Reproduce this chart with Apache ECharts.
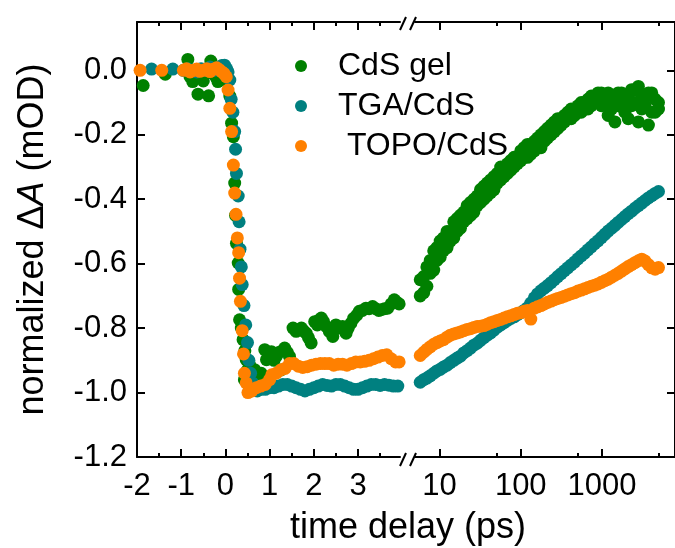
<!DOCTYPE html>
<html><head><meta charset="utf-8">
<script src="https://cdn.jsdelivr.net/npm/echarts@6/dist/echarts.min.js"></script>
<style>html,body{margin:0;padding:0;background:#fff}#c{width:675px;height:548px}</style>
</head><body><div id="c"></div>
<script>
const seriesNames = ['CdS gel', 'TGA/CdS', ' TOPO/CdS'];
const seriesColors = ['#008000', '#008080', '#ff8000'];
const linTickLabels = [-2, -1, 0, 1, 2, 3];
const linMinorTicks = [-1.5, -0.5, 0.5, 1.5, 2.5, 3.5];
const logTickLabels = [10, 100, 1000];
const logMinorTicks = [50, 500, 5000];
const yTicks = [-1.2, -1.0, -0.8, -0.6, -0.4, -0.2, 0.0];

// early (linear) segment: [time ps, normalized dA]
const cdsGelEarly = [[-1.86,-0.047],[-1.36,-0.012],[-0.92,0.0],[-0.85,0.034],[-0.8,-0.02],[-0.74,-0.035],[-0.7,-0.004],[-0.62,-0.074],[-0.56,-0.02],[-0.5,-0.033],[-0.44,0.0],[-0.38,-0.079],[-0.33,0.029],[-0.27,-0.01],[-0.22,-0.02],[-0.17,-0.035],[-0.1,-0.03],[-0.05,-0.01],[0.0,-0.02],[0.05,-0.03],[0.1,-0.08],[0.14,-0.164],[0.18,-0.206],[0.21,-0.35],[0.23,-0.45],[0.25,-0.537],[0.29,-0.598],[0.3,-0.68],[0.32,-0.774],[0.36,-0.8],[0.4,-0.836],[0.43,-0.96],[0.44,-0.87],[0.47,-0.898],[0.5,-0.93],[0.55,-0.914],[0.6,-0.945],[0.66,-0.929],[0.72,-0.95],[0.81,-0.94],[0.89,-0.867],[0.93,-0.898],[0.98,-0.88],[1.04,-0.873],[1.1,-0.9],[1.15,-0.888],[1.22,-0.875],[1.26,-0.93],[1.34,-0.862],[1.4,-0.875],[1.45,-0.888],[1.53,-0.8],[1.6,-0.81],[1.66,-0.805],[1.72,-0.8],[1.78,-0.81],[1.83,-0.816],[1.88,-0.83],[1.94,-0.846],[2.02,-0.78],[2.08,-0.79],[2.12,-0.775],[2.17,-0.769],[2.22,-0.78],[2.28,-0.795],[2.35,-0.81],[2.43,-0.826],[2.5,-0.79],[2.57,-0.8],[2.65,-0.795],[2.73,-0.816],[2.78,-0.8],[2.84,-0.785],[2.9,-0.77],[2.97,-0.76],[3.03,-0.748],[3.1,-0.745],[3.18,-0.738],[3.25,-0.74],[3.33,-0.733],[3.4,-0.74],[3.47,-0.745],[3.52,-0.743],[3.6,-0.74],[3.67,-0.738],[3.75,-0.725],[3.82,-0.712],[3.88,-0.72],[3.93,-0.725]];
const tgaEarly = [[-1.67,0.004],[-1.19,0.004],[-0.95,0.0],[-0.85,0.005],[-0.75,0.0],[-0.65,-0.005],[-0.55,0.005],[-0.45,0.0],[-0.35,0.01],[-0.25,0.0],[-0.15,0.01],[-0.08,0.015],[-0.02,0.016],[0.03,0.005],[0.06,-0.005],[0.1,-0.03],[0.13,-0.09],[0.17,-0.13],[0.21,-0.19],[0.23,-0.245],[0.25,-0.32],[0.29,-0.39],[0.31,-0.47],[0.33,-0.555],[0.36,-0.61],[0.38,-0.665],[0.42,-0.73],[0.46,-0.79],[0.5,-0.845],[0.53,-0.9],[0.57,-0.94],[0.61,-0.97],[0.66,-0.99],[0.72,-0.995],[0.8,-0.99],[0.9,-0.99],[1.0,-0.985],[1.1,-0.985],[1.2,-0.98],[1.3,-0.975],[1.4,-0.975],[1.5,-0.98],[1.6,-0.985],[1.7,-0.99],[1.8,-0.995],[1.9,-0.99],[2.0,-0.985],[2.1,-0.98],[2.2,-0.975],[2.3,-0.978],[2.4,-0.98],[2.5,-0.975],[2.6,-0.975],[2.7,-0.98],[2.8,-0.985],[2.9,-0.99],[3.0,-0.99],[3.1,-0.985],[3.2,-0.98],[3.3,-0.975],[3.4,-0.975],[3.5,-0.978],[3.6,-0.975],[3.7,-0.977],[3.8,-0.98],[3.9,-0.98]];
const topoEarly = [[-1.93,0.0],[-1.44,0.0],[-0.95,0.0],[-0.88,0.005],[-0.8,-0.005],[-0.72,0.0],[-0.65,0.004],[-0.58,-0.003],[-0.5,0.0],[-0.42,0.005],[-0.35,-0.004],[-0.28,0.003],[-0.2,0.008],[-0.14,0.002],[-0.08,-0.005],[-0.03,-0.01],[0.02,-0.02],[0.06,-0.061],[0.1,-0.118],[0.14,-0.19],[0.18,-0.294],[0.21,-0.381],[0.24,-0.447],[0.27,-0.52],[0.3,-0.566],[0.32,-0.645],[0.34,-0.717],[0.38,-0.808],[0.41,-0.88],[0.43,-0.94],[0.47,-0.97],[0.51,-1.0],[0.55,-0.99],[0.6,-0.995],[0.7,-0.985],[0.8,-0.98],[0.9,-0.975],[1.0,-0.96],[1.05,-0.945],[1.15,-0.94],[1.25,-0.93],[1.35,-0.925],[1.45,-0.91],[1.55,-0.91],[1.65,-0.918],[1.75,-0.922],[1.85,-0.92],[1.95,-0.915],[2.05,-0.912],[2.15,-0.91],[2.25,-0.91],[2.35,-0.91],[2.45,-0.915],[2.55,-0.912],[2.65,-0.912],[2.75,-0.915],[2.85,-0.91],[2.95,-0.905],[3.05,-0.905],[3.15,-0.903],[3.25,-0.9],[3.35,-0.895],[3.45,-0.89],[3.55,-0.885],[3.65,-0.883],[3.75,-0.895],[3.85,-0.905],[3.93,-0.905]];

// late (log) segment
const lateTimes = [5.8,6.4,7.0,7.7,8.5,9.3,10.2,11.2,12.4,13.6,15,16.5,18.1,19.9,21.9,24.1,26.5,29.1,32,35.2,38.7,42.6,46.8,51.5,56.6,62.3,68.5,75.3,82.8,91,100,110,121,133,147,161,177,195,214,236,259,285,314,345,379,417,459,505,555,610,671,738,812,893,982,1080,1190,1310,1440,1580,1740,1910,2100,2310,2540,2800,3080,3380,3720,4090,4500,4950];
const cdsGelLate = [-0.70,-0.64,-0.67,-0.59,-0.62,-0.55,-0.58,-0.52,-0.55,-0.50,-0.52,-0.46,-0.49,-0.44,-0.46,-0.41,-0.44,-0.39,-0.41,-0.36,-0.39,-0.34,-0.37,-0.32,-0.34,-0.30,-0.32,-0.28,-0.30,-0.27,-0.28,-0.24,-0.27,-0.23,-0.25,-0.21,-0.24,-0.19,-0.21,-0.17,-0.19,-0.15,-0.17,-0.14,-0.15,-0.12,-0.14,-0.11,-0.13,-0.10,-0.12,-0.08,-0.10,-0.07,-0.11,-0.08,-0.14,-0.09,-0.16,-0.07,-0.10,-0.08,-0.15,-0.06,-0.10,-0.05,-0.12,-0.08,-0.17,-0.07,-0.13,-0.10];
const cdsGelLate2 = [-0.65,-0.69,-0.61,-0.63,-0.56,-0.59,-0.53,-0.56,-0.50,-0.53,-0.47,-0.50,-0.45,-0.47,-0.42,-0.45,-0.40,-0.42,-0.37,-0.40,-0.35,-0.38,-0.33,-0.35,-0.30,-0.33,-0.29,-0.31,-0.27,-0.29,-0.25,-0.27,-0.23,-0.26,-0.22,-0.24,-0.20,-0.22,-0.18,-0.20,-0.16,-0.18,-0.15,-0.16,-0.13,-0.15,-0.12,-0.13,-0.10,-0.12,-0.09,-0.11,-0.08,-0.10,-0.07,-0.10,-0.07,-0.12,-0.08,-0.11,-0.07,-0.13,-0.08,-0.11,-0.06,-0.16,-0.08,-0.11,-0.07,-0.13,-0.09,-0.12];
const tgaLate = [-0.968,-0.960,-0.955,-0.948,-0.940,-0.933,-0.928,-0.921,-0.915,-0.907,-0.900,-0.893,-0.887,-0.877,-0.870,-0.862,-0.853,-0.847,-0.838,-0.830,-0.822,-0.815,-0.806,-0.797,-0.790,-0.783,-0.776,-0.770,-0.765,-0.758,-0.752,-0.745,-0.737,-0.722,-0.706,-0.694,-0.684,-0.676,-0.668,-0.659,-0.650,-0.640,-0.631,-0.622,-0.613,-0.604,-0.595,-0.585,-0.576,-0.567,-0.557,-0.548,-0.538,-0.529,-0.519,-0.509,-0.499,-0.490,-0.481,-0.472,-0.463,-0.454,-0.445,-0.437,-0.428,-0.420,-0.412,-0.404,-0.396,-0.389,-0.382,-0.376];
const topoLate = [-0.885,-0.875,-0.866,-0.858,-0.850,-0.845,-0.840,-0.836,-0.828,-0.822,-0.818,-0.815,-0.812,-0.808,-0.804,-0.802,-0.798,-0.795,-0.794,-0.792,-0.788,-0.783,-0.780,-0.776,-0.773,-0.769,-0.765,-0.762,-0.758,-0.754,-0.752,-0.748,-0.745,-0.772,-0.738,-0.734,-0.730,-0.725,-0.720,-0.716,-0.712,-0.708,-0.705,-0.701,-0.697,-0.693,-0.690,-0.685,-0.682,-0.678,-0.674,-0.670,-0.667,-0.663,-0.658,-0.653,-0.648,-0.642,-0.636,-0.630,-0.623,-0.616,-0.609,-0.603,-0.597,-0.591,-0.586,-0.592,-0.603,-0.613,-0.617,-0.612];

const FONT = "'Liberation Sans', Arial, Helvetica, sans-serif";
const BLACK = '#000';
const lineSt = { color: BLACK, width: 2 };
const LIN_MIN = -2, LIN_MAX = 3.95, LOG_MIN = 5, LOG_MAX = 7900, Y_MIN = -1.2, Y_MAX = 0.15;
const DOT = 13;

function xAx(grid, type, pos, ticks, len, showLine, labels) {
  const a = {
    gridIndex: grid, type: type, position: pos,
    min: type === 'log' ? LOG_MIN : LIN_MIN, max: type === 'log' ? LOG_MAX : LIN_MAX,
    axisLine: { show: showLine, onZero: false, lineStyle: lineSt },
    axisTick: { show: true, inside: true, length: len, lineStyle: lineSt, customValues: ticks },
    axisLabel: labels ? {
      show: true, customValues: ticks, fontSize: 31, fontFamily: FONT, color: BLACK, margin: 14,
      formatter: v => String(v)
    } : { show: false },
    splitLine: { show: false }, minorTick: { show: false }
  };
  if (type === 'log') a.logBase = 10;
  return a;
}

const xAxes = [
  xAx(0, 'value', 'bottom', linTickLabels, 8, true, true),
  xAx(0, 'value', 'bottom', linMinorTicks, 4, false, false),
  xAx(0, 'value', 'top', linTickLabels, 8, true, false),
  xAx(0, 'value', 'top', linMinorTicks, 4, false, false),
  xAx(1, 'log', 'bottom', logTickLabels, 8, true, true),
  xAx(1, 'log', 'bottom', logMinorTicks, 4, false, false),
  xAx(1, 'log', 'top', logTickLabels, 8, true, false),
  xAx(1, 'log', 'top', logMinorTicks, 4, false, false)
];

const yAxes = [
  {
    gridIndex: 0, type: 'value', position: 'left', min: Y_MIN, max: Y_MAX,
    axisLine: { show: true, onZero: false, lineStyle: lineSt },
    axisTick: { show: true, inside: true, length: 8, lineStyle: lineSt, customValues: yTicks },
    axisLabel: { show: true, customValues: yTicks, fontSize: 31, fontFamily: FONT, color: BLACK, margin: 10,
      formatter: v => v.toFixed(1) },
    splitLine: { show: false },
    name: 'normalized Δ{i|A} (mOD)', nameLocation: 'middle', nameGap: 86,
    nameTextStyle: { fontSize: 36, fontFamily: FONT, color: BLACK,
      rich: { i: { fontSize: 36, fontFamily: FONT, color: BLACK, fontStyle: 'italic' } } }
  },
  {
    gridIndex: 1, type: 'value', position: 'right', min: Y_MIN, max: Y_MAX,
    axisLine: { show: true, onZero: false, lineStyle: lineSt },
    axisTick: { show: true, inside: true, length: 8, lineStyle: lineSt, customValues: yTicks },
    axisLabel: { show: false }, splitLine: { show: false }
  }
];

const series = [];
const earlyData = [cdsGelEarly, tgaEarly, topoEarly];
const lateVals = [cdsGelLate, tgaLate, topoLate];
function sc(i, xi, yi, data) {
  return {
    name: seriesNames[i], type: 'scatter', xAxisIndex: xi, yAxisIndex: yi,
    data: data, symbol: 'circle', symbolSize: DOT, clip: false,
    itemStyle: { color: seriesColors[i], opacity: 1 }, emphasis: { disabled: true }
  };
}
for (let i = 0; i < 3; i++) series.push(sc(i, 0, 0, earlyData[i]));
series.push(sc(0, 4, 1, lateTimes.map((t, k) => [t, cdsGelLate2[k]])));
for (let i = 0; i < 3; i++) series.push(sc(i, 4, 1, lateTimes.map((t, k) => [t, lateVals[i][k]])));

const slash = (x1, y1, x2, y2) => ({ type: 'line', shape: { x1, y1, x2, y2 }, style: { stroke: BLACK, lineWidth: 2 }, z: 100 });

const option = {
  animation: false,
  backgroundColor: '#fff',
  grid: [
    { left: 137, top: 22, width: 263, height: 435 },
    { left: 415, top: 22, width: 266, height: 435 }
  ],
  xAxis: xAxes,
  yAxis: yAxes,
  legend: {
    orient: 'vertical', left: 295, top: 50, padding: 0,
    itemWidth: 12, itemHeight: 12, itemGap: 8, icon: 'circle',
    textStyle: { fontSize: 32, fontFamily: FONT, color: BLACK, lineHeight: 32, padding: [0, 0, 0, 26] },
    data: seriesNames, selectedMode: false
  },
  graphic: [
    { type: 'text', x: 408, y: 528, style: { text: 'time delay (ps)', fontSize: 36, fontFamily: FONT, fill: BLACK, align: 'center', verticalAlign: 'middle' } },
    slash(400, 30, 406, 17), slash(410, 30, 416, 17),
    slash(400, 466, 406, 453), slash(410, 466, 416, 453)
  ],
  series: series
};

const chart = echarts.init(document.getElementById('c'), null, { renderer: 'canvas' });
chart.setOption(option);
</script>
</body></html>
